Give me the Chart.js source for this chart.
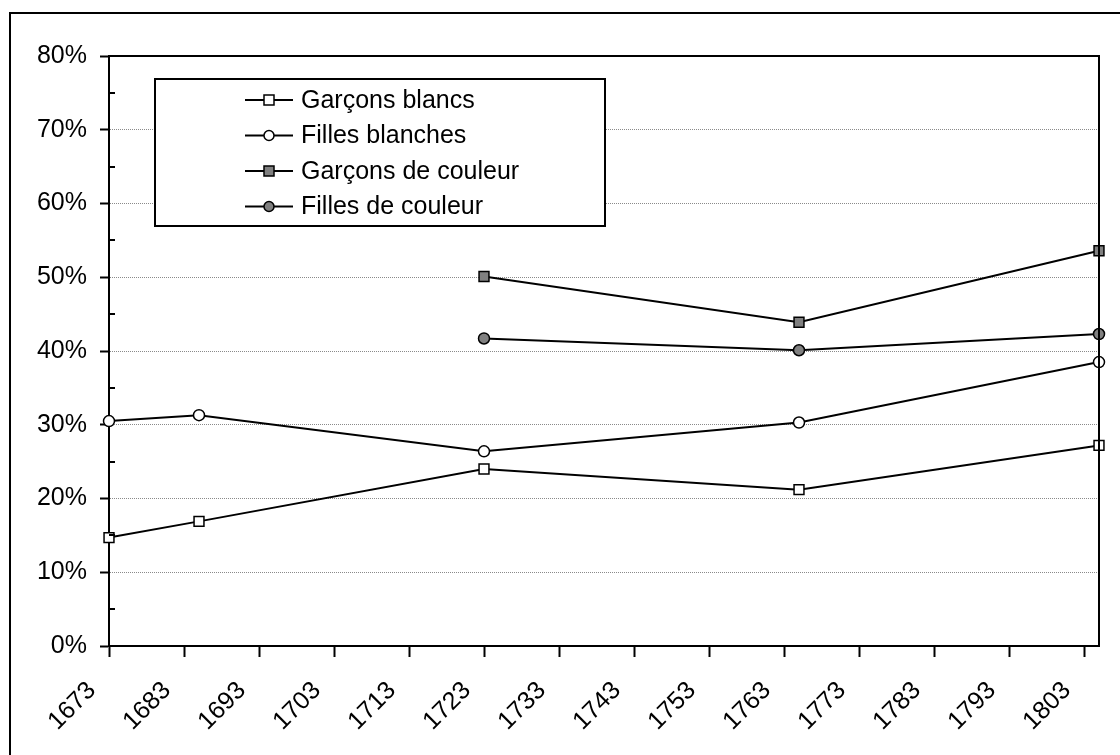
<!DOCTYPE html>
<html>
<head>
<meta charset="utf-8">
<script src="https://cdn.jsdelivr.net/npm/chart.js@4.4.1/dist/chart.umd.min.js"></script>
<style>
  html, body { margin: 0; padding: 0; background: #fff; }
  #wrap { width: 1120px; height: 755px; }
</style>
</head>
<body>
<div id="wrap"><canvas id="chart" width="1120" height="755"></canvas></div>
<script>
// --- Data (percent) ---
const years = [1673, 1685, 1723, 1765, 1805];
const garconsBlancs  = [14.7, 16.9, 24.0, 21.2, 27.2];
const fillesBlanches = [30.5, 31.3, 26.4, 30.3, 38.5];
const garconsCouleur = [null, null, 50.1, 43.9, 53.6];
const fillesCouleur  = [null, null, 41.7, 40.1, 42.3];
const seriesLabels = ['Garçons blancs', 'Filles blanches', 'Garçons de couleur', 'Filles de couleur'];
const xTickYears = [1673, 1683, 1693, 1703, 1713, 1723, 1733, 1743, 1753, 1763, 1773, 1783, 1793, 1803];
const yMinorTicks = [5, 15, 25, 35, 45, 55, 65, 75];

const fontFamily = '"Liberation Sans", Arial, sans-serif';
const fontSize = 25;
const gray = '#808080';

function points(values) {
    return years.map((x, i) => ({ x: x, y: values[i] })).filter(p => p.y !== null);
}

function series(label, values, style, fill, radius) {
    return {
        label: label,
        data: points(values),
        borderColor: '#000',
        borderWidth: 2,
        pointStyle: style,
        pointRadius: radius,
        pointHoverRadius: radius,
        pointBackgroundColor: fill,
        pointBorderColor: '#000',
        pointBorderWidth: 1.5,
        tension: 0,
        clip: false,
    };
}

// frame, minor ticks and in-plot legend
const framePlugin = {
    id: 'frame',
    afterDraw(chart) {
        const ctx = chart.ctx;
        const a = chart.chartArea;
        const y = chart.scales.y;
        ctx.save();
        ctx.strokeStyle = '#000';
        ctx.lineWidth = 2;
        // plot area top + right
        ctx.beginPath();
        ctx.moveTo(a.left, a.top);
        ctx.lineTo(a.right, a.top);
        ctx.lineTo(a.right, a.bottom);
        ctx.stroke();
        // minor ticks inside
        yMinorTicks.forEach(v => {
            const py = Math.round(y.getPixelForValue(v));
            ctx.beginPath();
            ctx.moveTo(a.left, py);
            ctx.lineTo(a.left + 6, py);
            ctx.stroke();
        });
        // outer chart border
        ctx.strokeRect(10, 13, 1300, 900);

        // legend
        const lx = a.left + 46, ly = a.top + 23, lw = 450, lh = 147;
        ctx.fillStyle = '#fff';
        ctx.fillRect(lx, ly, lw, lh);
        ctx.strokeRect(lx, ly, lw, lh);
        ctx.font = fontSize + 'px ' + fontFamily;
        ctx.textBaseline = 'middle';
        ctx.textAlign = 'left';
        chart.data.datasets.forEach((ds, i) => {
            const cy = ly + 21 + i * 35.5;
            ctx.lineWidth = 2;
            ctx.strokeStyle = '#000';
            ctx.beginPath();
            ctx.moveTo(lx + 90, cy);
            ctx.lineTo(lx + 138, cy);
            ctx.stroke();
            const mx = lx + 114;
            ctx.fillStyle = ds.pointBackgroundColor;
            ctx.lineWidth = 1.5;
            ctx.beginPath();
            if (ds.pointStyle === 'rect') {
                ctx.rect(mx - 5, cy - 5, 10, 10);
            } else {
                ctx.arc(mx, cy, 5, 0, Math.PI * 2);
            }
            ctx.fill();
            ctx.stroke();
            ctx.fillStyle = '#000';
            ctx.fillText(ds.label, lx + 146, cy + 1);
        });
        ctx.restore();
    }
};

new Chart(document.getElementById('chart').getContext('2d'), {
    type: 'line',
    data: {
        datasets: [
            series(seriesLabels[0], garconsBlancs, 'rect', '#fff', 7),
            series(seriesLabels[1], fillesBlanches, 'circle', '#fff', 5.5),
            series(seriesLabels[2], garconsCouleur, 'rect', gray, 7),
            series(seriesLabels[3], fillesCouleur, 'circle', gray, 5.5),
        ]
    },
    options: {
        responsive: false,
        animation: false,
        devicePixelRatio: 1,
        layout: { padding: { top: 56, right: 21, left: 0, bottom: 0 } },
        plugins: {
            legend: { display: false },
            tooltip: { enabled: false }
        },
        scales: {
            x: {
                type: 'linear',
                min: 1673,
                max: 1805,
                afterBuildTicks: s => { s.ticks = xTickYears.map(v => ({ value: v })); },
                afterFit: s => { s.height = 109; s.paddingLeft = 0; s.paddingRight = 0; },
                grid: {
                    drawOnChartArea: false,
                    drawTicks: true,
                    tickLength: 11,
                    tickColor: '#000',
                    tickWidth: 2
                },
                border: { color: '#000', width: 2 },
                ticks: {
                    autoSkip: false,
                    minRotation: 45,
                    maxRotation: 45,
                    padding: 19,
                    labelOffset: -17,
                    color: '#000',
                    font: { family: fontFamily, size: fontSize },
                    callback: v => String(v)
                }
            },
            y: {
                min: 0,
                max: 80,
                afterFit: s => { s.width = 109; },
                grid: {
                    color: ctx => (ctx.tick && (ctx.tick.value === 0 || ctx.tick.value === 80)) ? 'rgba(0,0,0,0)' : '#8a8a8a',
                    lineWidth: 1,
                    drawTicks: true,
                    tickLength: 9,
                    tickColor: '#000',
                    tickWidth: 2
                },
                border: { color: '#000', width: 2, dash: [1, 1] },
                ticks: {
                    stepSize: 10,
                    padding: 13,
                    color: '#000',
                    font: { family: fontFamily, size: fontSize },
                    callback: v => v + '%'
                }
            }
        }
    },
    plugins: [framePlugin]
});
</script>
</body>
</html>
